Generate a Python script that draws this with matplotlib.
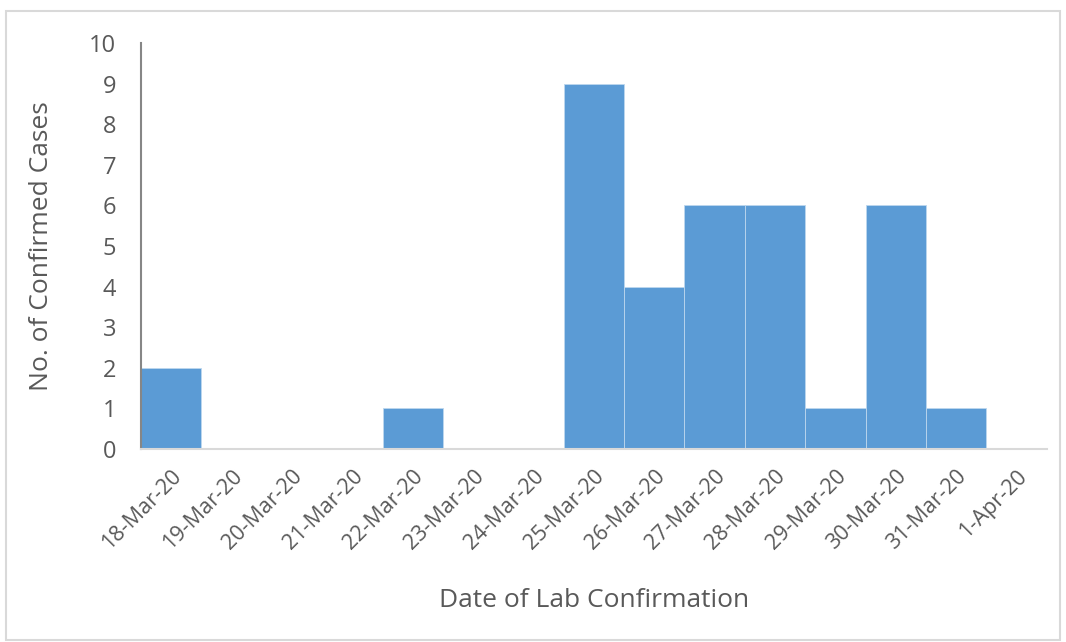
import matplotlib.pyplot as plt
from matplotlib.patches import Rectangle

# data
dates = ['18-Mar-20', '19-Mar-20', '20-Mar-20', '21-Mar-20', '22-Mar-20',
         '23-Mar-20', '24-Mar-20', '25-Mar-20', '26-Mar-20', '27-Mar-20',
         '28-Mar-20', '29-Mar-20', '30-Mar-20', '31-Mar-20', '1-Apr-20']
cases = [2, 0, 0, 0, 1, 0, 0, 9, 4, 6, 6, 1, 6, 1, 0]
y_ticks = list(range(0, 11))

plt.rcParams['font.family'] = ['Open Sans', 'DejaVu Sans']
text_col = '#595959'

fig = plt.figure(figsize=(10.66, 6.42), dpi=100)
fig.patch.set_facecolor('white')
# light frame around the chart area
fig.patches.append(Rectangle((6 / 1066, 2 / 642), 1054 / 1066, 629 / 642,
                             transform=fig.transFigure, fill=False,
                             edgecolor='#D9D9D9', linewidth=1.5))

ax = fig.add_axes([0.1323, 0.3006, 0.8497, 0.6324])
x = list(range(len(dates)))
ax.bar(x, cases, width=1.0, color='#5B9BD5', edgecolor='#BDD7EE', linewidth=0.6)

ax.set_xlim(-0.5, len(dates) - 0.5)
ax.set_ylim(0, 10)
ax.set_yticks(y_ticks)
ax.set_xticks(x)
ax.set_xticklabels(dates, rotation=45, ha='right', rotation_mode='anchor')

for s in ['top', 'right']:
    ax.spines[s].set_visible(False)
ax.spines['left'].set_color('#868686')
ax.spines['left'].set_linewidth(1.5)
ax.spines['bottom'].set_color('#D9D9D9')
ax.spines['bottom'].set_linewidth(1.5)

ax.tick_params(axis='both', length=0, colors=text_col)
ax.tick_params(axis='y', pad=18, labelsize=17)
ax.tick_params(axis='x', pad=12, labelsize=15.5)

ax.set_ylabel('No. of Confirmed Cases', fontsize=19, color=text_col, labelpad=25)
ax.set_xlabel('Date of Lab Confirmation', fontsize=19, color=text_col, labelpad=25)

fig.savefig('out.png', dpi=100)
